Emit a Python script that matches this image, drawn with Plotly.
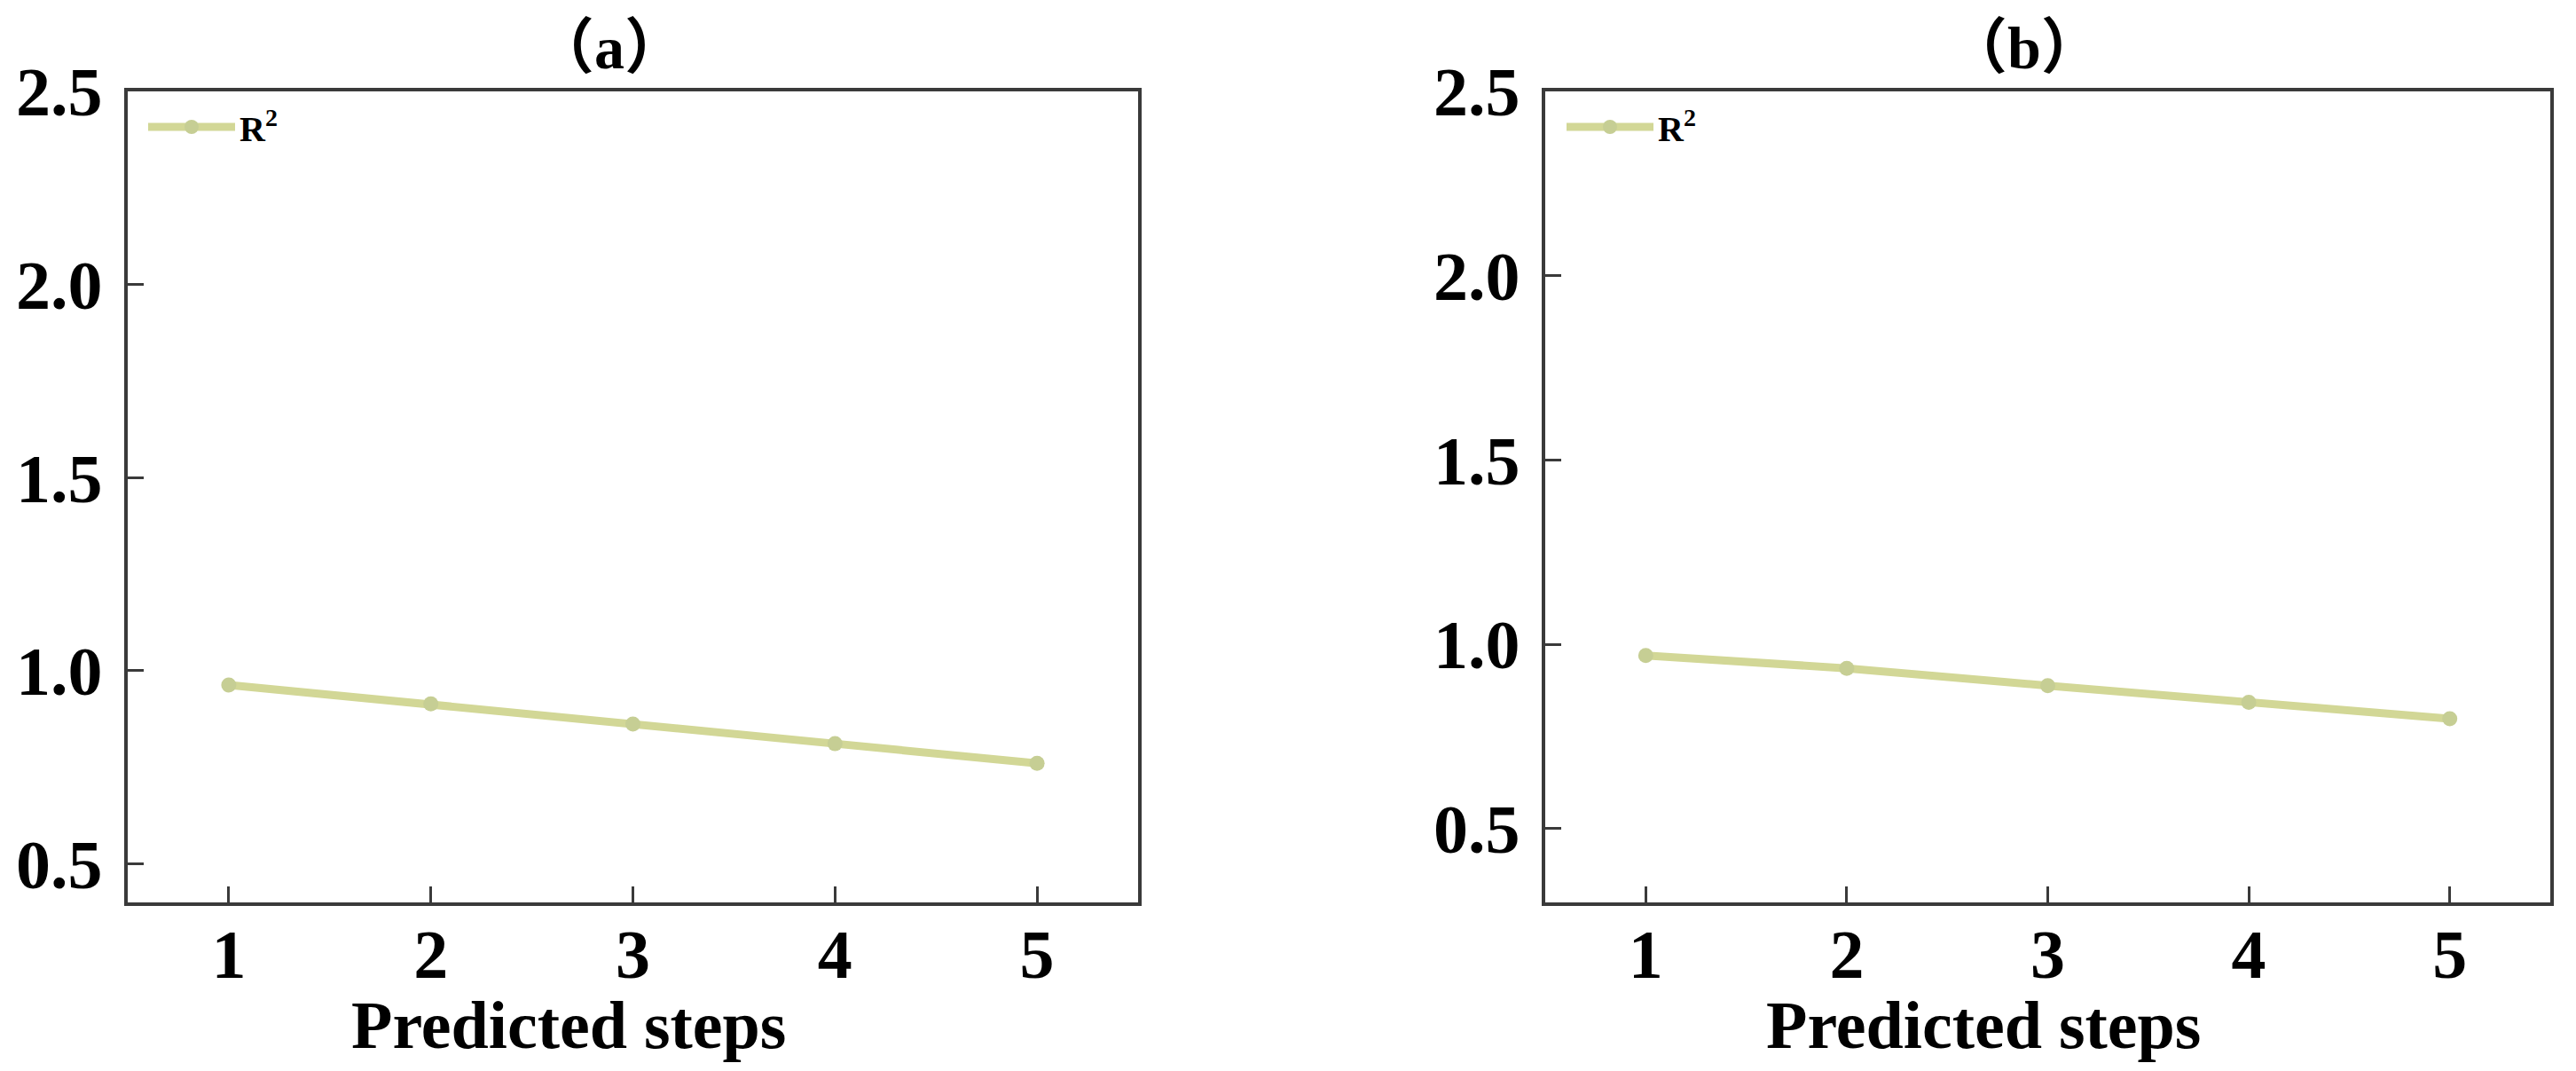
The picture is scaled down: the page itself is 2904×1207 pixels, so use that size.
import plotly.graph_objects as go
from plotly.subplots import make_subplots

# data
steps = [1, 2, 3, 4, 5]
r2_a = [0.963, 0.914, 0.862, 0.811, 0.760]
r2_b = [0.970, 0.935, 0.888, 0.843, 0.798]
y_ticks = [0.5, 1.0, 1.5, 2.0, 2.5]
panel_titles = ["（a）", "（b）"]
x_title = "Predicted steps"
legend_name = "R<sup>2</sup>"

# page is 2904x1207, the html body adds an 8px margin
PAGE_W, PAGE_H = 2904, 1207
OFF = 8
W, H = PAGE_W - 2 * OFF, PAGE_H - 2 * OFF
FONT = "Liberation Serif, Times New Roman, Noto Sans CJK SC, serif"
LINE_COLOR = "rgb(210,215,150)"
MARKER_COLOR = "rgb(198,206,148)"
AXIS_COLOR = "#3a3a3a"

fig = make_subplots(rows=1, cols=2)

for i, (vals, leg) in enumerate([(r2_a, "legend"), (r2_b, "legend2")]):
    fig.add_trace(
        go.Scatter(
            x=steps,
            y=vals,
            name=legend_name,
            mode="lines+markers",
            line={"color": LINE_COLOR, "width": 9},
            marker={"color": MARKER_COLOR, "size": 17},
            legend=leg,
        ),
        row=1, col=i + 1,
    )

def px_x(p):
    return (p - OFF) / W

def px_y(p):
    return 1 - (p - OFF) / H

# panel boxes, in page pixels
boxes = [(144, 1283), (1742, 2875)]
top, bottom = 103, 1017
y_ranges = [[0.4, 2.5], [0.3, 2.5]]
legend_x = [162, 1761]

axis_common = dict(
    showline=True,
    linecolor=AXIS_COLOR,
    linewidth=4,
    mirror=True,
    showgrid=False,
    zeroline=False,
    automargin=False,
    ticks="inside",
    ticklen=18,
    tickwidth=3,
    tickcolor=AXIS_COLOR,
    tickfont={"family": FONT, "size": 78, "color": "black", "weight": "bold"},
)

for i, (x0, x1) in enumerate(boxes):
    sfx = "" if i == 0 else str(i + 1)
    fig.layout["xaxis" + sfx].update(
        domain=[px_x(x0), px_x(x1)],
        range=[0.5, 5.5],
        tickvals=steps,
        ticklabelstandoff=-13,
        **axis_common,
    )
    fig.layout["yaxis" + sfx].update(
        domain=[px_y(bottom), px_y(top)],
        range=y_ranges[i],
        tickvals=y_ticks,
        tickformat=".1f",
        ticklabelstandoff=9,
        **axis_common,
    )
    # panel title
    fig.add_annotation(
        text="<b>" + panel_titles[i] + "</b>",
        xref="paper", yref="paper",
        x=px_x((x0 + x1) / 2 - 27), y=px_y(54),
        xanchor="center", yanchor="middle",
        showarrow=False,
        font={"family": FONT, "size": 68, "color": "black"},
    )
    # x axis title, sits left of centre in the original
    fig.add_annotation(
        text="<b>" + x_title + "</b>",
        xref="paper", yref="paper",
        x=px_x((x0 + x1) / 2 - 73), y=px_y(1155),
        xanchor="center", yanchor="middle",
        showarrow=False,
        font={"family": FONT, "size": 76, "color": "black"},
    )

legend_common = dict(
    bgcolor="rgba(0,0,0,0)",
    font={"family": FONT, "size": 40, "color": "black", "weight": "bold"},
    itemwidth=98,
    xanchor="left",
    yanchor="middle",
)
fig.update_layout(
    legend=dict(x=px_x(legend_x[0]), y=px_y(143), **legend_common),
    legend2=dict(x=px_x(legend_x[1]), y=px_y(143), **legend_common),
    width=W,
    height=H,
    margin={"l": 0, "r": 0, "t": 0, "b": 0, "autoexpand": False},
    plot_bgcolor="white",
    paper_bgcolor="white",
    showlegend=True,
)

fig.write_html("out.html")
